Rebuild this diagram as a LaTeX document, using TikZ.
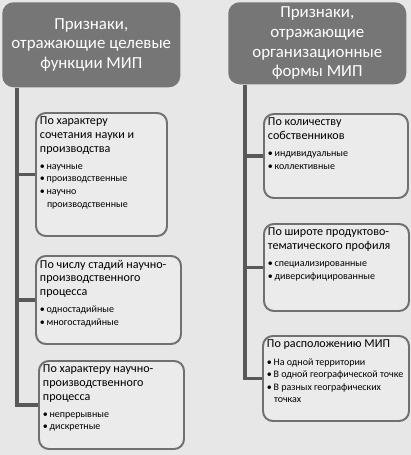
\documentclass[tikz,border=0pt]{standalone}
\usepackage{fontspec}
\setmainfont{Carlito}
\usetikzlibrary{positioning}
\definecolor{PageGray}{RGB}{231,231,231}
\definecolor{HeadGray}{RGB}{118,118,118}
\definecolor{LineGray}{RGB}{88,88,88}
\definecolor{FrameGray}{RGB}{112,112,112}
\definecolor{BoxGray}{RGB}{235,235,235}
\newlength\pxu
\setlength\pxu{0.025cm}
\newcommand{\signtitle}[1]{{\fontsize{8.6}{9.7}\selectfont #1\par}\vspace{3.5pt}\fontsize{7.1}{8.9}\selectfont}
\newcommand{\itm}[1]{\par\textbullet\,#1}
\newcommand{\itmnext}{\\\hspace*{5pt}}
\tikzset{
  headbox/.style={rectangle, fill=HeadGray, rounded corners=8pt, text=white, align=center,
    font=\fontsize{12}{14}\selectfont, minimum width=178\pxu, inner sep=0pt, anchor=north west},
  signbox/.style={rectangle, draw=FrameGray, line width=1.4pt, fill=BoxGray, rounded corners=7pt,
    inner sep=4\pxu, anchor=north west},
  trunk/.style={draw=LineGray, line width=2.2pt}
}

\begin{document}
\begin{tikzpicture}[x=0.025cm, y=-0.025cm]
  \fill[PageGray] (0,0) rectangle (411,455);

  % headers
  \node[headbox, minimum height=85\pxu] (hl) at (2,2) {Признаки,\\отражающие целевые\\функции МИП};
  \node[headbox, minimum height=82\pxu] (hr) at (228,2) {Признаки,\\отражающие\\организационные\\формы МИП};

  % left column
  \node[signbox] (l1) at (35,112) {\parbox[c][115\pxu][t]{123\pxu}{\raggedright
      \signtitle{По характеру\\сочетания науки и\\производства}
      \itm{научные}\itm{производственные}\itm{научно\itmnext производственные}}};
  \node[signbox] (l2) at (35,255) {\parbox[c][80\pxu][t]{137\pxu}{\raggedright
      \signtitle{По числу стадий научно-\\производственного\\процесса}
      \itm{одностадийные}\itm{многостадийные}}};
  \node[signbox] (l3) at (38,360) {\parbox[c][80\pxu][t]{137\pxu}{\raggedright
      \signtitle{По характеру научно-\\производственного\\процесса}
      \itm{непрерывные}\itm{дискретные}}};

  % right column
  \node[signbox] (r1) at (263,113) {\parbox[c][76\pxu][t]{136\pxu}{\raggedright
      \signtitle{По количеству\\собственников}
      \itm{индивидуальные}\itm{коллективные}}};
  \node[signbox] (r2) at (263,223) {\parbox[c][79\pxu][t]{137\pxu}{\raggedright
      \signtitle{По широте продуктово-\\тематического профиля}
      \itm{специализированные}\itm{диверсифицированные}}};
  \node[signbox] (r3) at (262,335) {\parbox[c][77\pxu][t]{138\pxu}{\raggedright
      \signtitle{По расположению МИП}
      \itm{На одной территории}\itm{\mbox{В одной географической точке}}\itm{В разных географических\itmnext точках}}};

  % connectors
  \coordinate (lt) at ([xshift=15\pxu]hl.south west);
  \coordinate (rt) at ([xshift=17\pxu]hr.south west);
  \draw[trunk] (lt) |- (l3.west);
  \draw[trunk] (l1.west -| lt) -- (l1.west);
  \draw[trunk] (l2.west -| lt) -- (l2.west);
  \draw[trunk] (rt) |- (r3.west);
  \draw[trunk] (r1.west -| rt) -- (r1.west);
  \draw[trunk] (r2.west -| rt) -- (r2.west);
\end{tikzpicture}
\end{document}
